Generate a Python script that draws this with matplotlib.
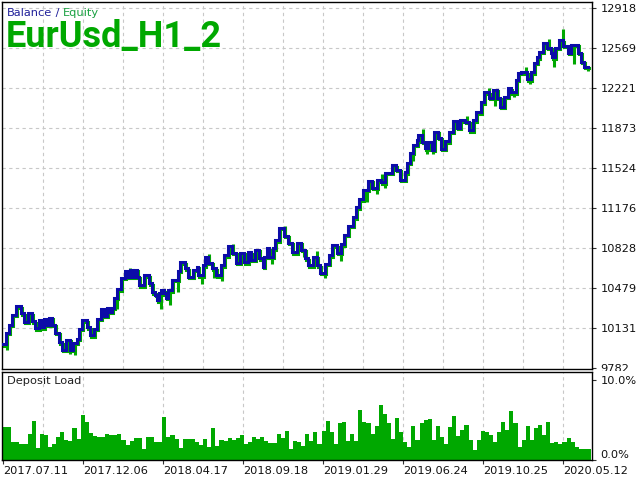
import matplotlib
matplotlib.use("Agg")
import matplotlib.pyplot as plt
import matplotlib.transforms as mtransforms
from matplotlib.transforms import Bbox
import numpy as np

# ---- data ----
deal_pos = [0.0, 0.9, 1.8, 2.7, 3.9, 5.4, 6.3, 7.5, 8.7, 9.6, 10.8, 11.7, 12.3, 13.2, 13.8, 14.7,
            15.6, 16.8, 17.7, 18.9, 20.1, 21.0, 22.2, 22.8, 23.7, 25.2, 26.1, 27.3, 28.2, 29.4, 30.3, 31.2,
            32.1, 32.7, 33.3, 34.2, 35.4, 36.6, 37.2, 38.1, 39.0, 39.3, 40.2, 40.8, 42.3, 43.8, 44.7, 45.6,
            46.2, 46.8, 47.4, 48.3, 48.9, 49.5, 50.7, 52.5, 53.1, 54.6, 55.5, 57.0, 58.2, 58.5, 60.0, 60.6,
            61.5, 62.7, 63.9, 65.4, 66.3, 67.5, 68.7, 69.9, 71.1, 72.3, 73.5, 74.4, 75.6, 76.8, 78.0, 78.3,
            79.2, 79.8, 81.0, 81.6, 82.8, 84.3, 85.5, 86.7, 88.2, 89.4, 90.6, 91.5,
            93.0, 94.2, 95.1, 96.6, 97.8, 98.7, 100.2, 101.4, 102.3, 103.5, 105.0, 105.9, 106.8, 108.0,
            109.5, 110.7, 112.2, 113.4, 114.6, 116.7, 117.9, 119.1, 120.6, 121.2, 122.1,
            123.0, 124.2, 124.5, 125.7, 126.6, 127.5, 128.7, 129.3, 130.5, 131.4, 132.6, 133.8, 135.0,
            136.2, 137.1, 138.6, 139.8, 141.0, 141.9, 143.4, 144.3, 145.8, 147.0, 148.2, 149.1, 150.3, 151.5,
            152.4, 153.9, 154.5, 155.4, 157.2, 158.4, 159.3, 160.2, 160.8, 162.0, 163.2, 164.4, 164.7,
            165.6, 166.8, 168.0, 169.5, 170.4, 172.5, 173.4, 174.3, 175.5]
balance = [9990, 10087, 10157, 10244, 10322, 10261, 10183, 10261, 10191, 10130, 10200, 10139, 10209, 10157, 10218, 10157,
           10087, 10008, 9939, 10026, 9939, 10000, 10035, 10122, 10200, 10139, 10069, 10122, 10209, 10296, 10235, 10305,
           10270, 10305, 10392, 10470, 10566, 10627, 10575, 10636, 10575, 10636, 10575, 10505, 10592, 10522, 10444, 10418,
           10374, 10435, 10461, 10435, 10392, 10461, 10549, 10627, 10705, 10653, 10575, 10636, 10662, 10592, 10679, 10749,
           10697, 10653, 10592, 10679, 10766, 10845, 10784, 10697, 10784, 10705, 10792, 10723, 10810, 10740, 10662, 10749,
           10827, 10749, 10827, 10897, 11002, 10932, 10871, 10792, 10871, 10810, 10740, 10679,
           10749, 10679, 10610, 10688, 10766, 10853, 10784, 10862, 10941, 11019, 11097, 11184, 11254, 11333,
           11411, 11350, 11420, 11402, 11481, 11550, 11507, 11420, 11489, 11568, 11655,
           11725, 11768, 11812, 11751, 11698, 11751, 11681, 11838, 11786, 11690, 11759, 11838, 11934,
           11873, 11942, 11925, 11855, 11942, 12012, 12099, 12186, 12134, 12204, 12134, 12056, 12143, 12221,
           12186, 12291, 12352, 12360, 12299, 12360, 12439, 12491, 12535, 12613, 12570, 12526, 12491,
           12570, 12639, 12587, 12526, 12596, 12526, 12448, 12404, 12404]

eq_pos = [0.9, 19.8, 21.3, 33.9, 37.8, 43.5, 47.1, 49.8, 52.2, 59.4, 61.5, 63.0, 65.4, 68.7, 80.4, 81.0,
          84.3, 90.0, 93.9, 96.3, 101.1, 108.9, 111.9, 113.4, 114.3, 118.8, 122.7, 125.7, 126.9, 128.7,
          132.0, 138.9, 140.4, 145.5, 147.3, 153.0, 156.6, 157.8, 163.5, 165.0, 167.7, 171.0, 175.2]
eq_val = [9956, 9921, 9904, 10313, 10662, 10610, 10313, 10348, 10461, 10531, 10792, 10575, 10549, 10871, 10697, 10836,
          11028, 10766, 10810, 10575, 10723, 11245, 11315, 11489, 11359, 11455, 11594, 11881, 11655, 11655,
          11681, 11986, 11838, 12230, 12073, 12160, 12421, 12265, 12665, 12421, 12744, 12439, 12378]

load = [4.1, 4.1, 2.2, 2.2, 2.0, 2.0, 3.25, 4.9, 1.5, 3.25,
        3.1, 1.6, 2.0, 2.9, 3.5, 2.5, 2.4, 4.0, 2.6, 5.6,
        4.7, 3.4, 3.0, 2.9, 2.9, 3.25, 3.1, 3.1, 3.25, 2.5,
        1.9, 2.4, 2.7, 2.7, 1.4, 2.9, 2.9, 2.3, 2.3, 5.4,
        2.9, 3.1, 2.6, 1.5, 2.6, 2.6, 2.6, 2.3, 1.9, 2.6,
        1.6, 4.0, 1.75, 2.5, 2.4, 2.7, 2.5, 2.7, 3.1, 2.0,
        2.3, 2.9, 2.6, 2.9, 2.4, 2.1, 2.1, 3.25, 2.7, 3.6,
        1.4, 2.4, 2.2, 1.75, 3.3, 2.4, 3.5, 2.0, 3.6, 4.9,
        3.5, 2.0, 4.6, 4.7, 2.4, 3.25, 2.4, 6.3, 4.7, 4.6,
        3.25, 4.2, 6.9, 5.8, 4.6, 2.6, 5.3, 3.5, 2.3, 1.6,
        4.2, 2.5, 4.6, 5.0, 5.1, 2.5, 4.2, 2.9, 2.0, 4.1,
        5.5, 3.0, 3.8, 4.4, 2.5, 1.25, 2.5, 3.6, 3.5, 3.1,
        2.2, 3.5, 4.7, 3.75, 6.1, 4.6, 1.6, 2.5, 4.25, 2.5,
        4.0, 4.4, 3.1, 4.7, 2.1, 2.3, 2.0, 2.3, 2.8, 2.2,
        1.6, 1.4, 1.4, 1.4]

y_ticks = [9782, 10131, 10479, 10828, 11176, 11524, 11873, 12221, 12569, 12918]
x_tick_pos = [0, 24, 48, 72, 96, 120, 144, 168]
x_tick_labels = ["2017.07.11", "2017.12.06", "2018.04.17", "2018.09.18",
                 "2019.01.29", "2019.06.24", "2019.10.25", "2020.05.12"]
main_grid_x = [12, 24, 36, 48, 60, 72, 84, 96, 108, 120, 132, 144, 156, 168]
load_grid_x = [12, 24, 48, 72, 96, 120, 144, 168]
load_ticks = [0, 10]
load_labels = ["0.0%", "10.0%"]

# ---- styling ----
BLUE = "#0c0ca8"
GREEN = "#00a800"
GRID = "#c8c8c8"
plt.rcParams["font.family"] = ["DejaVu Sans"]

fig = plt.figure(figsize=(6.4, 4.8), dpi=100)
W, H = 640.0, 480.0
ax = fig.add_axes([2 / W, 1 - 369 / H, 590 / W, 367 / H])
ax2 = fig.add_axes([2 / W, 1 - 460 / H, 590 / W, 88 / H])
ax2.set_zorder(3)

xlim = (-0.3, 176.7)

# main panel
ax.set_xlim(*xlim)
ax.set_ylim(9773.3, 12970.2)
for gx in main_grid_x:
    ax.axvline(gx, color=GRID, lw=0.8, ls=(0, (3, 3)), zorder=0)
for gy in y_ticks[1:]:
    ax.axhline(gy, color=GRID, lw=0.8, ls=(0, (3, 3)), zorder=0)

xs = list(deal_pos)
ys = list(balance)
shadow = mtransforms.offset_copy(ax.transData, fig=fig, x=1.0, y=-1.5, units="dots")
ax.plot(xs, ys, drawstyle="steps-post", color=GREEN, lw=2.2, transform=shadow, zorder=2,
        solid_joinstyle="miter")
idx = np.searchsorted(deal_pos, eq_pos, side="right") - 1
bal_at = np.array(balance)[idx]
ax.vlines(eq_pos, bal_at, eq_val, color=GREEN, lw=2.2, transform=shadow, zorder=2)
ax.plot(xs, ys, drawstyle="steps-post", color=BLUE, lw=2.2, zorder=3, solid_joinstyle="miter")

ax.yaxis.tick_right()
ax.set_yticks(y_ticks)
ax.set_yticklabels([str(v) for v in y_ticks])
ax.tick_params(axis="y", direction="out", length=3, width=0.8, pad=3, labelsize=8.2,
               colors="#303030", labelcolor="#101010")
ax.set_xticks([])
for s in ax.spines.values():
    s.set_color("black")
    s.set_linewidth(1.0)

# bottom panel
ax2.set_xlim(*xlim)
ax2.set_ylim(0, 11)
for gx in load_grid_x:
    ax2.axvline(gx, color=GRID, lw=0.8, ls=(0, (3, 3)), zorder=0)
n = len(load)
bw = 176.4 / n
ax2.bar(np.arange(n) * bw, load, width=bw, align="edge", color=GREEN, linewidth=0,
        zorder=2, antialiased=False)
ax2.yaxis.tick_right()
ax2.set_yticks(load_ticks)
ax2.set_yticklabels(load_labels)
ax2.tick_params(axis="y", direction="out", length=3, width=0.8, pad=3, labelsize=8.2,
                colors="#303030", labelcolor="#101010")
ylbls = ax2.get_yticklabels()
ylbls[0].set_va("bottom")
ax2.set_xticks(x_tick_pos)
ax2.set_xticklabels(x_tick_labels, ha="left")
ax2.tick_params(axis="x", direction="out", length=3, width=0.8, pad=1.2, labelsize=8.2,
                colors="#303030", labelcolor="#101010")
for s in ax2.spines.values():
    s.set_color("black")
    s.set_linewidth(1.0)
ax2.text(5 / 590, 1 - 9 / 88, "Deposit Load", transform=ax2.transAxes, ha="left", va="center",
         fontsize=8.2, color="#202020")

# titles
t1 = fig.text(7 / W, 1 - 13 / H, "Balance", fontsize=8.2, color="#20209a", ha="left", va="center")
t2 = ax.annotate(" / ", xy=(1, 0), xycoords=t1, fontsize=8.2, color="#20209a", ha="left", va="bottom")
t3 = ax.annotate("Equity", xy=(1, 0), xycoords=t2, fontsize=8.2, color="#18a040", ha="left", va="bottom")
fig.text(6 / W, 1 - 47 / H, "EurUsd_H1_2", fontsize=26, fontweight="bold", color=GREEN,
         family=["Roboto", "DejaVu Sans"], ha="left", va="baseline")

# clip the lowest main-axis label where the lower panel starts
fig.canvas.draw()
clip = Bbox.from_extents(0, 1 - 371 / H, 1, 1)
clip = mtransforms.TransformedBbox(clip, fig.transFigure)
for lbl in ax.get_yticklabels():
    lbl.set_clip_box(clip)
    lbl.set_clip_on(True)

fig.savefig("out.png", dpi=100)
